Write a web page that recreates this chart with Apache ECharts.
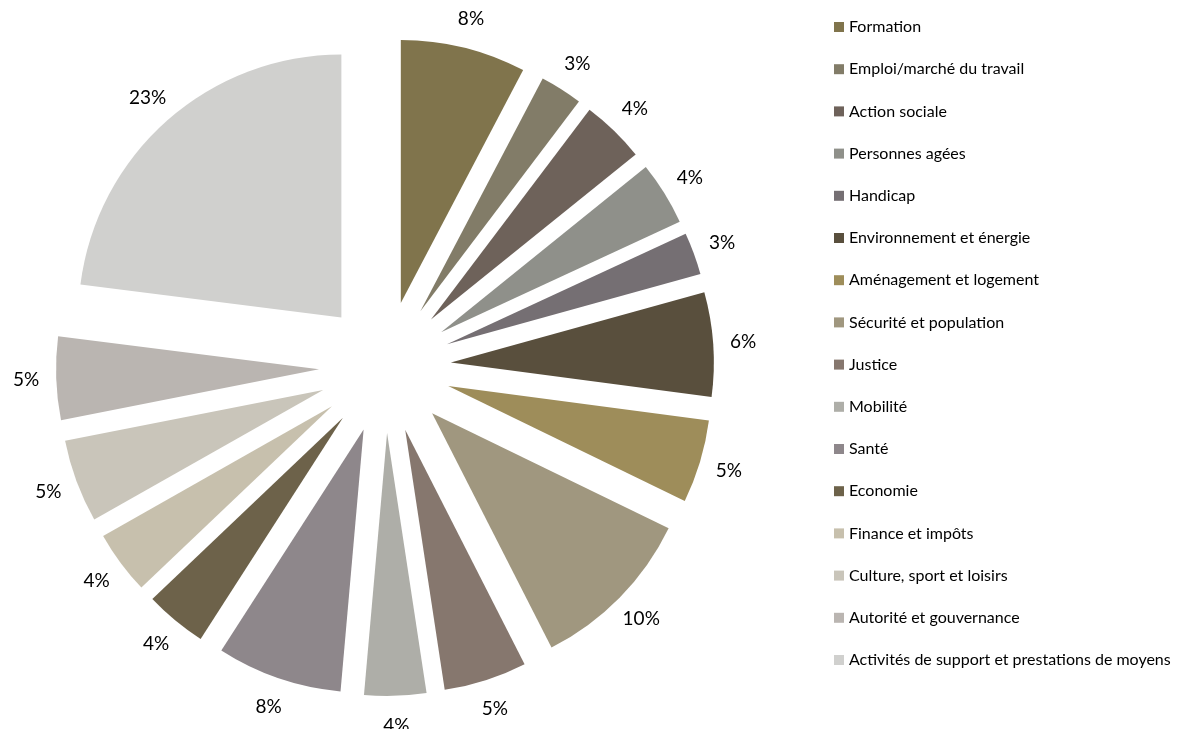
<!DOCTYPE html>
<html>
<head>
<meta charset="utf-8">
<script src="https://cdn.jsdelivr.net/npm/echarts@6/dist/echarts.min.js"></script>
<style>
  html, body { margin: 0; padding: 0; background: #fff; }
  #pie { width: 1191px; height: 729px; }
</style>
</head>
<body>
<div id="pie"></div>
<script>
// categories, clockwise from 12 o'clock
const categories = [
  'Formation', 'Emploi/marché du travail', 'Action sociale', 'Personnes agées',
  'Handicap', 'Environnement et énergie', 'Aménagement et logement', 'Sécurité et population',
  'Justice', 'Mobilité', 'Santé', 'Economie', 'Finance et impôts',
  'Culture, sport et loisirs', 'Autorité et gouvernance', 'Activités de support et prestations de moyens'
]
// share in %
const shares = [7.7, 2.6, 3.9, 3.9, 2.6, 6.4, 5.1, 10.3, 5.1, 3.8, 7.7, 3.8, 3.9, 5.1, 5.1, 23.0]
const colors = [
  '#80744C', '#827C68', '#6E625A', '#8F908A', '#756F73', '#594F3D', '#9E8D5A', '#A0977F',
  '#86776E', '#AEAEA8', '#8E878B', '#6D624A', '#C7C0AD', '#C9C5BA', '#BAB5B1', '#D0D0CE'
]

const font = 'Lato, "Open Sans", sans-serif'
const center = [385, 367]

const chart = echarts.init(document.getElementById('pie'))

const slices = categories.map((name, i) => ({
  name: name,
  value: shares[i],
  selected: true,
  itemStyle: { color: colors[i] }
}))
// same values, invisible ring that only carries the percent labels
const labelSlices = categories.map((name, i) => ({
  name: name,
  value: shares[i],
  selected: true
}))

chart.setOption({
  animation: false,
  backgroundColor: '#fff',
  legend: {
    orient: 'vertical',
    left: 829,
    top: 14,
    icon: 'rect',
    itemWidth: 10,
    itemHeight: 10,
    itemGap: 26.2,
    selectedMode: false,
    data: categories,
    textStyle: { fontFamily: font, fontSize: 16, color: '#000' }
  },
  series: [
    {
      type: 'pie',
      center: center,
      radius: 263,
      startAngle: 90,
      selectedMode: 'multiple',
      selectedOffset: 66,
      label: { show: false },
      labelLine: { show: false },
      emphasis: { disabled: true },
      silent: true,
      data: slices
    },
    {
      type: 'pie',
      center: center,
      radius: [289, 291],
      startAngle: 90,
      selectedMode: 'multiple',
      selectedOffset: 66,
      avoidLabelOverlap: false,
      itemStyle: { color: 'rgba(0,0,0,0)' },
      label: {
        show: true,
        position: 'inside',
        color: '#000',
        fontFamily: font,
        fontSize: 19,
        formatter: p => Math.round(p.percent) + '%'
      },
      labelLine: { show: false },
      emphasis: { disabled: true },
      silent: true,
      data: labelSlices
    }
  ]
})
</script>
</body>
</html>
